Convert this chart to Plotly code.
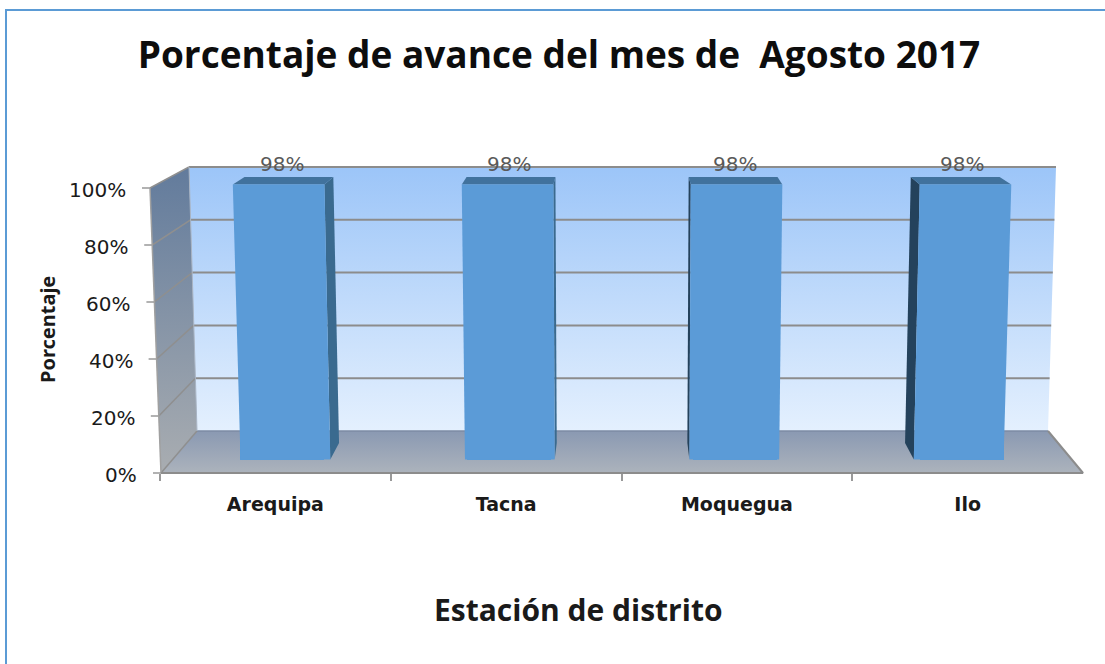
import plotly.graph_objects as go

categories = ["Arequipa", "Tacna", "Moquegua", "Ilo"]
values = [98, 98, 98, 98]
value_labels = ["98%", "98%", "98%", "98%"]
y_ticks = [0, 20, 40, 60, 80, 100]
y_tick_labels = ["0%", "20%", "40%", "60%", "80%", "100%"]
title_text = "Porcentaje de avance del mes de \u00a0Agosto 2017"
x_title_text = "Estación de distrito"
y_title_text = "Porcentaje"

W, H = 1105, 664
GRID = "#8c8c8c"

# pseudo-3D frame of the chart, in page pixels
def front_x(v): return 161 - v * 0.11
def front_y(v): return 473 - v * 2.85
def back_x(v): return 197 - v * 0.08
def back_y(v): return 431 - v * 2.64
def back_xr(v): return 1048 + v * 0.08

fig = go.Figure()

def gradient_poly(xs, ys, top, bottom, angle=None):
    fig.add_trace(go.Scatter(
        x=xs + xs[:1], y=ys + ys[:1], mode="lines", line=dict(width=0), fill="toself",
        fillgradient=dict(type="vertical", colorscale=[[0, top], [1, bottom]]),
        hoverinfo="skip", showlegend=False, xaxis="x", yaxis="y"))

def line(xs, ys, color=GRID, width=2):
    fig.add_trace(go.Scatter(x=xs, y=ys, mode="lines", line=dict(color=color, width=width),
                             hoverinfo="skip", showlegend=False, xaxis="x", yaxis="y"))

# back wall, side wall, floor
gradient_poly([back_x(100), back_xr(100), back_xr(0), back_x(0)],
              [back_y(100), back_y(100), back_y(0), back_y(0)], "#E4F0FE", "#9CC5F8")
gradient_poly([front_x(100), back_x(100), back_x(0), front_x(0)],
              [front_y(100), back_y(100), back_y(0), front_y(0)], "#A9ADB1", "#627B9C")
gradient_poly([front_x(0), back_x(0), back_xr(0), 1083],
              [front_y(0), back_y(0), back_y(0), front_y(0)], "#ACB3BC", "#8A99B2")

for v in y_ticks:
    if v > 0:
        line([back_x(v), back_xr(v)], [back_y(v), back_y(v)])
    else:
        line([back_x(v), back_xr(v)], [back_y(v), back_y(v)], color="#7d8ba3", width=1.5)
    line([front_x(v), back_x(v)], [front_y(v), back_y(v)], color="#8f8f8f", width=1.5)
    line([front_x(v) - 8, front_x(v)], [front_y(v), front_y(v)], color="#999999", width=1.5)

line([front_x(100), front_x(0)], [front_y(100), front_y(0)], color="#a0a0a0", width=1.5)
line([back_x(100), back_x(0)], [back_y(100), back_y(0)], color="#a8b4c4", width=1)
line([front_x(0), 1083, back_xr(0)], [front_y(0), front_y(0), back_y(0)], color="#8c8c8c", width=2)

# real category axis carrying the ticks and labels
fig.add_trace(go.Scatter(x=categories, y=[None] * 4, mode="lines", hoverinfo="skip",
                         showlegend=False, xaxis="x2", yaxis="y2"))

# bars: projected faces in index/percent units of the third axis pair
HALF = 0.2
MID = (len(categories) - 1) / 2

def proj(i, side, v, d):
    scale = (0.99 + 0.02 * v / 98) * (1 - 0.03 * d)
    return MID + (i - MID + side * HALF) * scale, v + d * (5.88 - 0.0327 * v)

def face(points, color):
    xs = [p[0] for p in points]
    ys = [p[1] for p in points]
    fig.add_trace(go.Scatter(x=xs + xs[:1], y=ys + ys[:1], mode="lines", fill="toself",
                             fillcolor=color, line=dict(width=0), hoverinfo="skip",
                             showlegend=False, xaxis="x3", yaxis="y3"))

idx = list(range(len(categories)))
fig.add_trace(go.Bar(x=idx, y=values, width=0.37, marker=dict(color="#5B9BD7", line=dict(width=0)),
                     customdata=categories, hovertemplate="%{customdata}: %{y}%<extra></extra>",
                     showlegend=False, xaxis="x3", yaxis="y3"))
for i, v in zip(idx, values):
    side = 1 if i < MID else -1
    dark = "#3A6A8F" if i < MID else "#24425C"
    face([proj(i, side, 0, 0), proj(i, side, 0, 1), proj(i, side, v, 1), proj(i, side, v, 0)], dark)
    face([proj(i, -1, v, 0), proj(i, 1, v, 0), proj(i, 1, v, 1), proj(i, -1, v, 1)], "#41729D")
    face([proj(i, -1, 0, 0), proj(i, 1, 0, 0), proj(i, 1, v, 0), proj(i, -1, v, 0)], "#5B9BD7")

annotations = []
for i, v, t in zip(idx, values, value_labels):
    annotations.append(dict(x=i, y=v, xref="x3", yref="y3", text=t, showarrow=False, yshift=21,
                            font=dict(family="DejaVu Sans", size=20, color="#595959")))
for v, t in zip(y_ticks, y_tick_labels):
    annotations.append(dict(x=front_x(v) - 22, y=front_y(v) + 2, xref="x", yref="y", text=t,
                            showarrow=False, xanchor="right", yanchor="middle",
                            font=dict(family="DejaVu Sans", size=20, color="#1a1a1a")))
annotations.append(dict(x=47, y=330, xref="x", yref="y", text=y_title_text, textangle=-90,
                        showarrow=False,
                        font=dict(family="Noto Sans", size=20, color="#1a1a1a", weight=700)))
annotations.append(dict(x=578, y=609, xref="x", yref="y", text=x_title_text, showarrow=False,
                        font=dict(family="Open Sans", size=30, color="#1a1a1a", weight=700)))

px = lambda p: p / W
py = lambda p: 1 - p / H

fig.update_layout(
    width=W, height=H, autosize=False,
    margin=dict(l=0, r=0, t=0, b=0),
    paper_bgcolor="white", plot_bgcolor="rgba(0,0,0,0)",
    showlegend=False, bargap=0,
    title=dict(text=title_text, x=559 / W, y=py(55), xanchor="center", yanchor="middle",
               font=dict(family="Open Sans", size=37, color="#0d0d0d", weight=700)),
    annotations=annotations,
    xaxis=dict(domain=[0, 1], range=[0, W], visible=False, fixedrange=True),
    yaxis=dict(domain=[0, 1], range=[H, 0], visible=False, fixedrange=True),
    xaxis2=dict(domain=[px(160), px(1083)], anchor="y2", type="category", categoryorder="array",
                categoryarray=categories, range=[-0.5, 3.5], tickson="boundaries", ticks="outside",
                ticklen=7, tickcolor="#999999", tickwidth=1.5, showline=False, showgrid=False,
                zeroline=False, ticklabelstandoff=18, fixedrange=True,
                tickfont=dict(family="DejaVu Sans", size=19, color="#1a1a1a", weight=700)),
    yaxis2=dict(domain=[py(473), py(188)], anchor="x2", range=[0, 100], visible=False, fixedrange=True),
    xaxis3=dict(domain=[0, 1], anchor="y3", range=[-282 / 226.7, (W - 282) / 226.7],
                visible=False, fixedrange=True),
    yaxis3=dict(domain=[0, 1], anchor="x3", range=[(459.5 - H) / 2.806, 459.5 / 2.806],
                visible=False, fixedrange=True),
    shapes=[
        dict(type="line", xref="paper", yref="paper", x0=px(5), x1=1, y0=py(10), y1=py(10),
             line=dict(color="#5B9BD5", width=2)),
        dict(type="line", xref="paper", yref="paper", x0=px(6), x1=px(6), y0=py(9), y1=0,
             line=dict(color="#5B9BD5", width=2)),
    ],
)

fig.write_html("out.html", config=dict(displayModeBar=False),
               post_script="document.body.style.margin='0';")
